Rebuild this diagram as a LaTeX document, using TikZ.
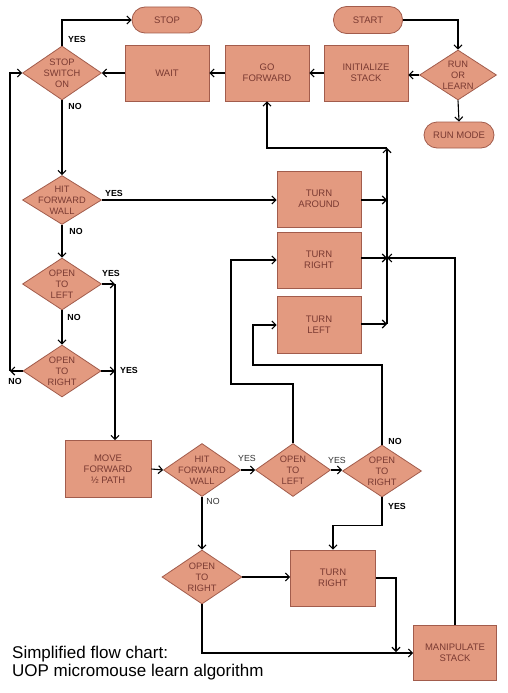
\documentclass[tikz,border=0pt]{standalone}
\usepackage{fontspec}
\setmainfont{Liberation Sans}
\usetikzlibrary{shapes.geometric,arrows.meta}
\definecolor{boxfill}{HTML}{E39A80}
\definecolor{boxline}{HTML}{A25C4C}
\definecolor{boxtext}{HTML}{7A3A32}
\begin{document}
\begin{tikzpicture}[x=1pt,y=-1pt,
  box/.style={draw=boxline, line width=0.8pt, fill=boxfill, rectangle, minimum width=84pt, minimum height=56pt, inner sep=0pt, align=center, text=boxtext, font=\fontsize{9.5}{11}\selectfont},
  term/.style={box, rounded corners=13pt, minimum width=70pt, minimum height=26pt},
  dia/.style={draw=boxline, line width=0.8pt, fill=boxfill, diamond, inner sep=0pt},
  dtext/.style={align=center, text=boxtext, font=\fontsize{9.3}{11}\selectfont, inner sep=0pt},
  arr/.style={line width=1.1pt, -{Straight Barb[length=4pt,width=8pt]}},
  ln/.style={line width=1.1pt},
  lbl/.style={font=\fontsize{8.8}{10}\selectfont\bfseries, inner sep=0pt},
  lblr/.style={font=\fontsize{8.8}{10}\selectfont, text=black!80, inner sep=0pt}
]
\fill[white] (0,0) rectangle (508,693);
\useasboundingbox (0,0) rectangle (508,693);

% top row
\node[term] (stop) at (167,20) {STOP};
\node[term, minimum width=69pt, minimum height=27pt] (start) at (368,20) {START};
\node[term] (runmode) at (459,135) {RUN MODE};
\node[dia, minimum width=79pt, minimum height=54pt, label={[dtext]center:{STOP\\SWITCH\\ON}}] (sw) at (62,73) {};
\node[box] (wait) at (167,73) {WAIT};
\node[box] (gofwd) at (267,73) {GO\\FORWARD};
\node[box] (init) at (366,73) {INITIALIZE\\STACK};
\node[dia, minimum width=77pt, minimum height=50pt, label={[dtext]center:{RUN\\OR\\LEARN}}] (rol) at (458,75) {};

% left column
\node[dia, minimum width=79pt, minimum height=49pt, label={[dtext]center:{HIT\\FORWARD\\WALL}}] (hfw1) at (62,200) {};
\node[dia, minimum width=79pt, minimum height=52pt, label={[dtext]center:{OPEN\\TO\\LEFT}}] (ol1) at (62,284) {};
\node[dia, minimum width=78pt, minimum height=52pt, label={[dtext]center:{OPEN\\TO\\RIGHT}}] (or1) at (62,371) {};

% turn boxes
\node[box] (tar) at (319,199) {TURN\\AROUND};
\node[box] (tr1) at (319,260) {TURN\\RIGHT};
\node[box, minimum height=57pt] (tl) at (319,325) {TURN\\LEFT};

% lower row
\node[box, minimum width=86pt, minimum height=57pt] (mf) at (108,469) {MOVE\\FORWARD\\½ PATH};
\node[dia, minimum width=77pt, minimum height=53pt, label={[dtext]center:{HIT\\FORWARD\\WALL}}] (hfw2) at (202,470) {};
\node[dia, minimum width=75pt, minimum height=53pt, label={[dtext]center:{OPEN\\TO\\LEFT}}] (ol2) at (293,470) {};
\node[dia, minimum width=79pt, minimum height=52pt, label={[dtext]center:{OPEN\\TO\\RIGHT}}] (or2) at (382,471) {};
\node[dia, minimum width=80pt, minimum height=54pt, label={[dtext]center:{OPEN\\TO\\RIGHT}}] (or3) at (202,577) {};
\node[box, minimum width=85pt] (tr2) at (333,578) {TURN\\RIGHT};
\node[box, minimum width=83pt, minimum height=55pt] (ms) at (455,653) {MANIPULATE\\STACK};

% junction coordinates
\coordinate (j1) at (115,284);
\coordinate (j2) at (115,371);
\coordinate (jl) at (10,371);
\coordinate (jtar) at (387,200);
\coordinate (jtr) at (387,258);
\coordinate (jtl) at (387,324);
\coordinate (jtop) at (387,148);
\coordinate (c1) at (231,384);
\coordinate (c2) at (253,365);
\coordinate (c4) at (396,652);

% top connectors
\draw[arr] (start.east) -| (rol.north);
\draw[arr] (rol.west) -- (init.east |- rol.west);
\draw[arr] (rol.south) -- (runmode.north);
\draw[arr] (init.west) -- (gofwd.east);
\draw[arr] (gofwd.west) -- (wait.east);
\draw[arr] (wait.west) -- (sw.east);
\draw[arr] (sw.north) |- (stop.west);
\draw[arr] (sw.south) -- (hfw1.north);

% left column connectors
\draw[arr] (hfw1.east) -- (tar.west |- hfw1.east);
\draw[arr] (hfw1.south) -- (ol1.north);
\draw[arr] (ol1.south) -- (or1.north);
\draw[arr] (ol1.east) -- (j1);
\draw[arr] (or1.east) -- (j2);
\draw[arr] (j1) -- (j1 |- mf.north);
\draw[arr] (or1.west) -- (jl);
\draw[arr] (jl) |- (sw.west);

% turn boxes to collector line
\draw[arr] (tar.east |- jtar) -- (jtar);
\draw[arr] (tr1.east |- jtr) -- (jtr);
\draw[arr] (tl.east |- jtl) -- (jtl);
\draw[arr] (jtl) -- (jtop);
\draw[arr] (jtop) -| (gofwd.south);

% lower row
\draw[arr] (mf.east) -- (hfw2.west);
\draw[arr] (hfw2.east) -- (ol2.west);
\draw[arr] (ol2.east) -- (or2.west |- ol2.east);
\draw[arr] (hfw2.south) -- (or3.north);
\draw[arr] (ol2.north) |- (c1) |- (tr1.west);
\draw[arr] (or2.north) |- (c2) |- (tl.west);
\draw[arr] (or2.south) -- ++(0,28) -| (tr2.north);
\draw[arr] (or3.east) -- (tr2.west |- or3.east);
\draw[arr] (tr2.east) -| (c4);
\draw[arr] (or3.south) |- (ms.west);
\draw[arr] (ms.north) |- (jtr);

% branch labels
\node[lbl] (y1) at (77,39) {YES};
\node[lbl] (n1) at (75,106) {NO};
\node[lbl] (y2) at (114,193) {YES};
\node[lbl] (n2) at (76,231) {NO};
\node[lbl] (y3) at (111,273) {YES};
\node[lbl] (n3) at (74,317) {NO};
\node[lbl] (y4) at (129,370) {YES};
\node[lbl] (n4) at (15,381) {NO};
\node[lblr] (y5) at (247,458) {YES};
\node[lblr] (n5) at (213,501) {NO};
\node[lblr] (y6) at (337,460) {YES};
\node[lbl] (n6) at (395,441) {NO};
\node[lbl] (y7) at (397,506) {YES};

% caption
\node[anchor=base west, inner sep=0pt, font=\fontsize{17}{18}\selectfont] (cap1) at (12,658) {Simplified flow chart:};
\node[anchor=base west, inner sep=0pt, font=\fontsize{17}{18}\selectfont] (cap2) at (12,676) {UOP micromouse learn algorithm};
\end{tikzpicture}
\end{document}
